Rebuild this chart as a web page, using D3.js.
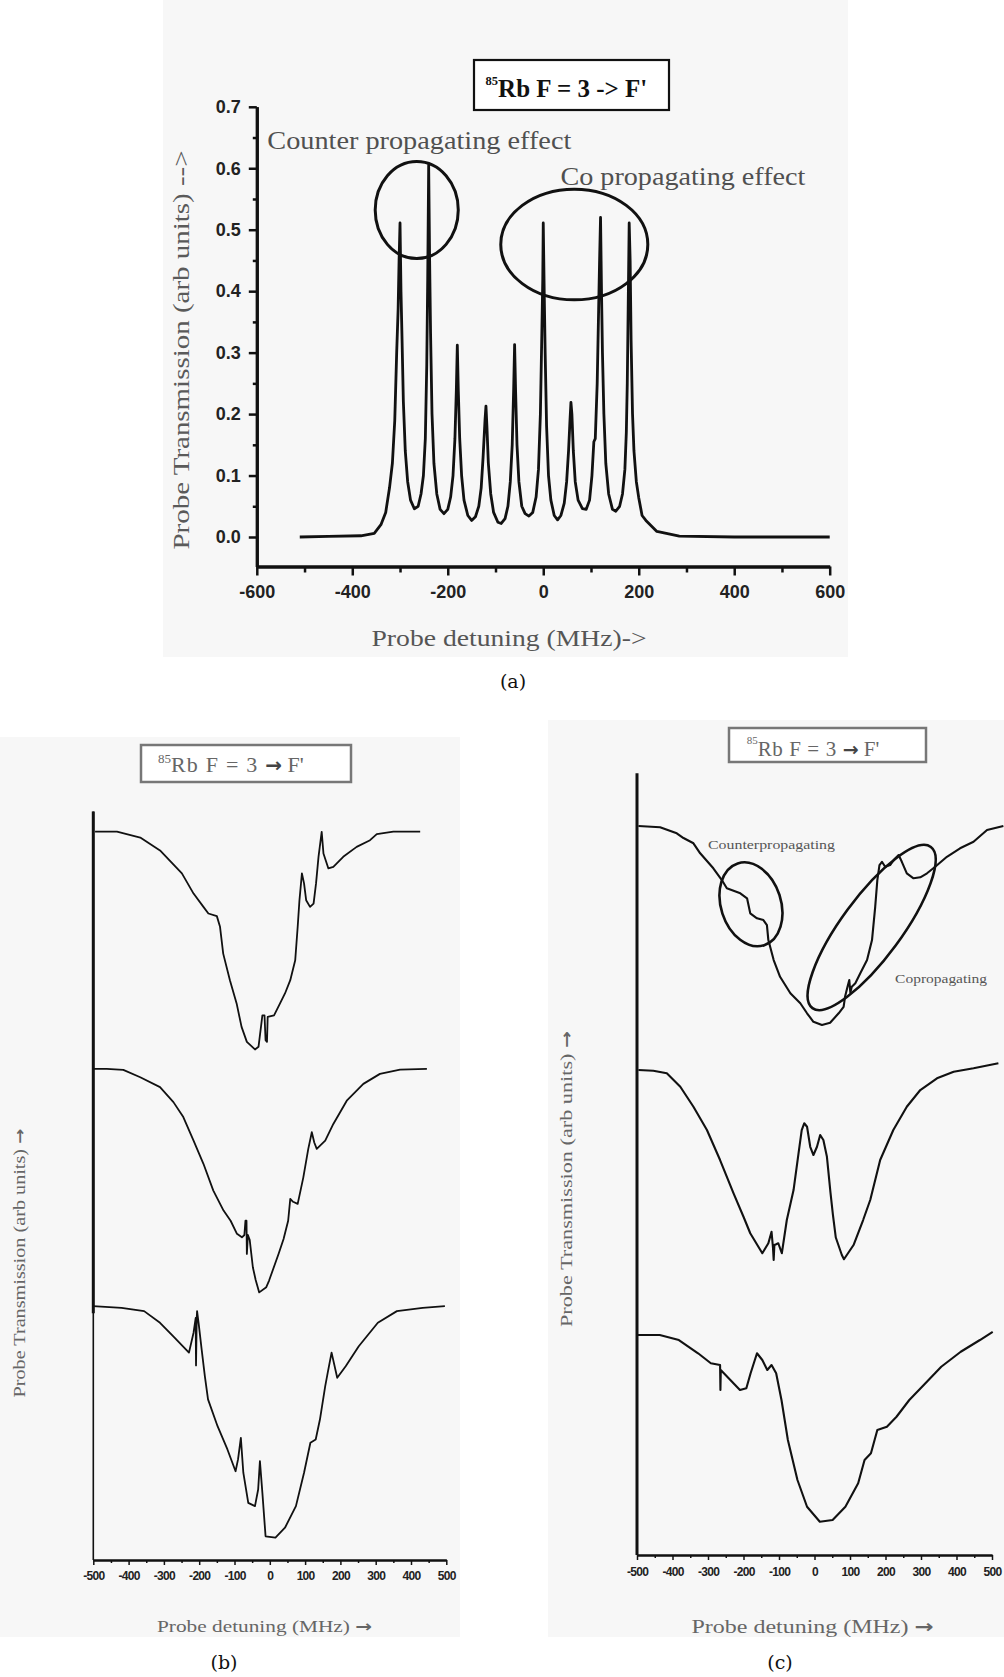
<!DOCTYPE html>
<html>
<head>
<meta charset="utf-8">
<script src="https://cdn.jsdelivr.net/npm/d3@7"></script>
<style>
  body { margin: 0; background: #fff; }
  svg { display: block; }
</style>
</head>
<body>
<svg id="fig" width="1004" height="1677"></svg>
<script>
// ---------- Panel (a): probe transmission, 85Rb F = 3 -> F' ----------
// [detuning MHz, transmission (arb units)]
const spectrumA = [
  [-510, 0], [-450, 0.001], [-382, 0.002], [-354, 0.006], [-340, 0.02], [-330, 0.04],
  [-322, 0.08], [-316, 0.12], [-311, 0.19], [-307, 0.3], [-304, 0.37], [-302, 0.45],
  [-300, 0.511], [-298, 0.40], [-296, 0.33], [-293, 0.22], [-289, 0.14], [-284, 0.09],
  [-278, 0.06], [-270, 0.046], [-262, 0.05], [-256, 0.07], [-251, 0.10], [-247, 0.16],
  [-244, 0.28], [-242, 0.42], [-240, 0.605], [-238, 0.45], [-236, 0.33], [-233, 0.2],
  [-229, 0.12], [-223, 0.07], [-216, 0.045], [-208, 0.038], [-200, 0.045], [-194, 0.065],
  [-189, 0.10], [-185, 0.16], [-182, 0.24], [-180, 0.312], [-178, 0.24], [-175, 0.16],
  [-171, 0.10], [-166, 0.06], [-158, 0.035], [-150, 0.027], [-142, 0.033], [-135, 0.05],
  [-130, 0.08], [-126, 0.13], [-122, 0.19], [-120, 0.213], [-118, 0.18], [-115, 0.12],
  [-110, 0.07], [-104, 0.04], [-95, 0.024], [-88, 0.022], [-80, 0.03], [-74, 0.05],
  [-69, 0.09], [-65, 0.15], [-62, 0.24], [-60, 0.313], [-58, 0.24], [-55, 0.15],
  [-51, 0.09], [-45, 0.05], [-38, 0.038], [-30, 0.034], [-22, 0.04], [-15, 0.065],
  [-10, 0.11], [-6, 0.2], [-3, 0.33], [-1, 0.42], [0, 0.511], [2, 0.40], [4, 0.3],
  [7, 0.18], [11, 0.1], [16, 0.06], [23, 0.035], [30, 0.028], [37, 0.035], [44, 0.055],
  [49, 0.09], [53, 0.14], [56, 0.19], [58, 0.219], [60, 0.2], [63, 0.14], [67, 0.09],
  [73, 0.06], [82, 0.046], [90, 0.045], [97, 0.06], [102, 0.1], [106, 0.155], [109, 0.16],
  [113, 0.25], [116, 0.37], [118, 0.45], [120, 0.52], [122, 0.40], [124, 0.3], [127, 0.2],
  [131, 0.12], [137, 0.07], [145, 0.045], [152, 0.042], [160, 0.05], [166, 0.07],
  [171, 0.11], [174, 0.17], [176, 0.25], [178, 0.38], [180, 0.511], [182, 0.45],
  [184, 0.32], [187, 0.2], [190, 0.14], [195, 0.09], [200, 0.064], [207, 0.035],
  [215, 0.027], [238, 0.009], [285, 0.0015], [400, 0], [600, 0]
];
const aXTicks = [-600, -400, -200, 0, 200, 400, 600];
const aXMinor = [-500, -300, -100, 100, 300, 500];
const aYTicks = [0, 0.1, 0.2, 0.3, 0.4, 0.5, 0.6, 0.7];
const aYMinor = [0.05, 0.15, 0.25, 0.35, 0.45, 0.55, 0.65];
// highlighted peak groups: centre (MHz, transmission) and half-extent in the same units
const aGroups = [
  { mhz: -265, t: 0.532, dMhz: 87, dT: 0.079 },
  { mhz: 65, t: 0.476, dMhz: 154, dT: 0.090 }
];
const aNotes = [
  { text: "Counter propagating effect", mhz: -578, t: 0.644, len: 304 },
  { text: "Co propagating effect", mhz: 36, t: 0.586, len: 245 }
];

// ---------- Panel (b): three stacked probe scans ----------
// [detuning MHz, relative transmission]; each trace stacked by its offset
const scanB1 = [
  [-495, 1.0], [-433, 1.0], [-367, 0.975], [-311, 0.921], [-249, 0.824], [-216, 0.739],
  [-188, 0.683], [-174, 0.655], [-150, 0.644], [-141, 0.599], [-132, 0.486], [-113, 0.374],
  [-94, 0.276], [-80, 0.177], [-65, 0.114], [-42, 0.082], [-32, 0.093], [-25, 0.177],
  [-21, 0.226], [-15, 0.226], [-12, 0.121], [-8, 0.114], [-6, 0.219], [12, 0.226],
  [29, 0.276], [43, 0.318], [58, 0.374], [72, 0.458], [79, 0.599], [84, 0.711], [91, 0.824],
  [97, 0.782], [103, 0.711], [114, 0.683], [124, 0.697], [131, 0.782], [138, 0.894],
  [147, 0.999], [152, 0.908], [166, 0.845], [180, 0.852], [208, 0.894], [246, 0.936],
  [284, 0.964], [303, 0.99], [350, 1.0], [426, 1.0]
];
const scanB2 = [
  [-500, 1.0], [-462, 1.0], [-415, 0.996], [-367, 0.965], [-311, 0.923], [-273, 0.86],
  [-245, 0.797], [-216, 0.698], [-188, 0.60], [-160, 0.487], [-131, 0.403], [-111, 0.36],
  [-93, 0.305], [-79, 0.29], [-72, 0.30], [-69, 0.36], [-66, 0.36], [-65, 0.22], [-62, 0.30],
  [-57, 0.28], [-48, 0.164], [-40, 0.11], [-30, 0.058], [-10, 0.08], [-2, 0.108], [25, 0.221],
  [39, 0.283], [52, 0.36], [58, 0.452], [66, 0.44], [79, 0.431], [95, 0.543], [109, 0.663],
  [119, 0.733], [126, 0.69], [133, 0.663], [157, 0.698], [180, 0.768], [218, 0.866],
  [265, 0.937], [312, 0.979], [369, 0.997], [445, 1.0]
];
const scanB3 = [
  [-501, 1.0], [-420, 0.993], [-356, 0.979], [-311, 0.93], [-274, 0.874], [-229, 0.804],
  [-216, 0.888], [-210, 0.95], [-209, 0.75], [-207, 0.95], [-206, 0.979], [-201, 0.92],
  [-193, 0.817], [-184, 0.705], [-175, 0.607], [-148, 0.494], [-120, 0.396], [-97, 0.304],
  [-90, 0.354], [-82, 0.445], [-75, 0.298], [-61, 0.171], [-42, 0.157], [-33, 0.227],
  [-28, 0.347], [-21, 0.213], [-12, 0.03], [16, 0.024], [43, 0.066], [74, 0.157], [97, 0.298],
  [115, 0.424], [130, 0.438], [142, 0.522], [157, 0.663], [164, 0.719], [175, 0.804],
  [191, 0.698], [215, 0.747], [252, 0.831], [306, 0.93], [360, 0.979], [433, 0.993], [496, 1.0]
];
const scansB = [scanB1, scanB2, scanB3];
const offsetsB = [2, 1, 0];

// ---------- Panel (c): three stacked probe scans ----------
// [detuning MHz, transmission (arb units)]
const scanC1 = [
  [-496, 2.916], [-435, 2.911], [-388, 2.887], [-369, 2.868], [-341, 2.847], [-322, 2.807],
  [-285, 2.747], [-261, 2.70], [-247, 2.667], [-209, 2.647], [-190, 2.627], [-181, 2.567],
  [-162, 2.547], [-144, 2.54], [-134, 2.52], [-130, 2.46], [-115, 2.38], [-97, 2.313],
  [-68, 2.247], [-40, 2.207], [-21, 2.167], [-3, 2.133], [21, 2.12], [44, 2.129], [68, 2.167],
  [82, 2.193], [86, 2.233], [93, 2.273], [98, 2.30], [101, 2.25], [105, 2.273], [115, 2.287],
  [129, 2.327], [148, 2.38], [162, 2.46], [171, 2.593], [177, 2.70], [183, 2.76], [190, 2.773],
  [199, 2.753], [213, 2.76], [223, 2.78], [237, 2.80], [246, 2.773], [260, 2.727], [279, 2.707],
  [298, 2.711], [317, 2.727], [340, 2.753], [373, 2.793], [410, 2.827], [448, 2.853],
  [486, 2.90], [532, 2.916]
];
const scanC2 = [
  [-496, 1.94], [-454, 1.937], [-416, 1.927], [-378, 1.873], [-341, 1.793], [-303, 1.70],
  [-266, 1.58], [-228, 1.447], [-200, 1.353], [-181, 1.287], [-147, 1.207], [-130, 1.247],
  [-121, 1.293], [-117, 1.23], [-115, 1.18], [-113, 1.24], [-108, 1.243], [-102, 1.247],
  [-92, 1.207], [-78, 1.34], [-59, 1.46], [-45, 1.607], [-36, 1.70], [-29, 1.727],
  [-21, 1.713], [-12, 1.633], [-3, 1.60], [7, 1.633], [16, 1.68], [25, 1.66], [35, 1.593],
  [45, 1.45], [52, 1.36], [60, 1.27], [77, 1.20], [83, 1.183], [110, 1.24], [137, 1.34],
  [157, 1.42], [185, 1.58], [222, 1.70], [260, 1.793], [298, 1.86], [345, 1.907],
  [392, 1.933], [448, 1.947], [518, 1.967]
];
const scanC3 = [
  [-499, 0.88], [-436, 0.88], [-382, 0.86], [-328, 0.807], [-292, 0.767], [-266, 0.76],
  [-265, 0.66], [-264, 0.74], [-237, 0.70], [-210, 0.66], [-192, 0.667], [-180, 0.727],
  [-162, 0.807], [-147, 0.78], [-133, 0.74], [-121, 0.76], [-108, 0.727], [-93, 0.62],
  [-75, 0.46], [-48, 0.30], [-21, 0.193], [15, 0.133], [51, 0.14], [87, 0.193], [123, 0.287],
  [141, 0.38], [159, 0.407], [177, 0.50], [204, 0.513], [231, 0.553], [267, 0.62],
  [303, 0.673], [357, 0.753], [412, 0.813], [466, 0.86], [502, 0.893]
];
const scansC = [scanC1, scanC2, scanC3];
// ringed regions on the top scan: centre (MHz, arb units), radii in px, tilt in degrees
const cRings = [
  { mhz: -179, v: 2.603, rx: 43, ry: 30, tilt: 72 },
  { mhz: 161, v: 2.51, rx: 100, ry: 30, tilt: -53.7 }
];
const cNotes = [
  { text: "Counterpropagating", mhz: -300, v: 2.84, len: 127 },
  { text: "Copropagating", mhz: 227, v: 2.307, len: 92 }
];
const bcXTicks = [-500, -400, -300, -200, -100, 0, 100, 200, 300, 400, 500];
const bcXMinor = [-450, -350, -250, -150, -50, 50, 150, 250, 350, 450];

// ---------- drawing ----------
const svg = d3.select("#fig");
const SERIF = "'Liberation Serif', 'Times New Roman', serif";
const SANS = "'Liberation Sans', Arial, sans-serif";
const ARROW_FONT = "'DejaVu Sans', sans-serif";

// soft grey panel grounds
[[163, 0, 685, 657], [0, 737, 460, 900], [548, 720, 456, 917]].forEach(([x, y, w, h]) =>
  svg.append("rect").attr("x", x).attr("y", y).attr("width", w).attr("height", h).attr("fill", "#f7f7f7"));

function styleAxis(g, domainW, tickW, fontSize, color, weight) {
  g.select(".domain").attr("stroke", "#111").attr("stroke-width", domainW);
  g.selectAll(".tick line").attr("stroke", "#111").attr("stroke-width", tickW);
  g.selectAll(".tick text").attr("font-family", SANS).attr("font-size", fontSize)
    .attr("font-weight", weight).attr("fill", color);
}

// text with a heavy right arrow at its end, stretched to a given length
function labelWithArrow(sel, words, arrowSize, len) {
  sel.attr("textLength", len).attr("lengthAdjust", "spacingAndGlyphs");
  sel.append("tspan").text(words + " ");
  sel.append("tspan").attr("font-family", ARROW_FONT).attr("font-weight", "bold")
    .attr("font-size", arrowSize).text("\u2192");
}

// ----- (a) -----
const xA = d3.scaleLinear().domain([-600, 600]).range([256.8, 829.7]);
const yA = d3.scaleLinear().domain([-0.048, 0.7]).range([566.5, 106.8]);
const gA = svg.append("g");

gA.append("g").attr("transform", `translate(0,${yA(-0.048)})`)
  .call(d3.axisBottom(xA).tickValues(aXMinor).tickSize(6).tickSizeOuter(0).tickFormat(""))
  .call(g => styleAxis(g, 3, 2.5, 18, "#222", "bold"));
gA.append("g").attr("transform", `translate(0,${yA(-0.048)})`)
  .call(d3.axisBottom(xA).tickValues(aXTicks).tickSize(9).tickPadding(10).tickSizeOuter(0)
    .tickFormat(d => String(d)))
  .call(g => styleAxis(g, 3, 2.5, 18, "#222", "bold"));
gA.append("g").attr("transform", `translate(${xA(-600)},0)`)
  .call(d3.axisLeft(yA).tickValues(aYMinor).tickSize(4).tickSizeOuter(0).tickFormat(""))
  .call(g => styleAxis(g, 3, 2.5, 18, "#222", "bold"));
gA.append("g").attr("transform", `translate(${xA(-600)},0)`)
  .call(d3.axisLeft(yA).tickValues(aYTicks).tickSize(8).tickPadding(8).tickSizeOuter(0)
    .tickFormat(d3.format(".1f")))
  .call(g => styleAxis(g, 3, 2.5, 18, "#222", "bold"));

gA.append("path").datum(spectrumA)
  .attr("d", d3.line().x(d => xA(d[0])).y(d => yA(d[1])))
  .attr("fill", "none").attr("stroke", "#111").attr("stroke-width", 2.8)
  .attr("stroke-linejoin", "round");

gA.selectAll("ellipse.grp").data(aGroups).join("ellipse")
  .attr("cx", d => xA(d.mhz)).attr("cy", d => yA(d.t))
  .attr("rx", d => xA(d.mhz + d.dMhz) - xA(d.mhz))
  .attr("ry", d => yA(d.t) - yA(d.t + d.dT))
  .attr("fill", "none").attr("stroke", "#111").attr("stroke-width", 3);

gA.selectAll("text.note").data(aNotes).join("text")
  .attr("x", d => xA(d.mhz)).attr("y", d => yA(d.t)).attr("dy", "0.33em")
  .attr("textLength", d => d.len).attr("lengthAdjust", "spacingAndGlyphs")
  .attr("font-family", SERIF).attr("font-size", 25).attr("fill", "#505050")
  .text(d => d.text);

// title box (a)
gA.append("rect").attr("x", 474).attr("y", 60).attr("width", 195).attr("height", 50)
  .attr("fill", "#fff").attr("stroke", "#111").attr("stroke-width", 2.2);
const tA = gA.append("text").attr("x", 485.6).attr("y", 96.5)
  .attr("font-family", SERIF).attr("font-weight", "bold").attr("fill", "#111");
tA.append("tspan").attr("font-size", 12.5).attr("dy", -12).text("85");
tA.append("tspan").attr("font-size", 25).attr("dy", 12).text("Rb F = 3 -> F'");

gA.append("text").attr("transform", "translate(181,350) rotate(-90)")
  .attr("text-anchor", "middle").attr("dy", "0.33em")
  .attr("textLength", 399).attr("lengthAdjust", "spacingAndGlyphs")
  .attr("font-family", SERIF).attr("font-size", 24).attr("fill", "#5a5a5a")
  .text("Probe Transmission (arb units) -->");
gA.append("text").attr("x", 509).attr("y", 646).attr("text-anchor", "middle")
  .attr("textLength", 275).attr("lengthAdjust", "spacingAndGlyphs")
  .attr("font-family", SERIF).attr("font-size", 24).attr("fill", "#555")
  .text("Probe detuning (MHz)->");
gA.append("text").attr("x", 513).attr("y", 688).attr("text-anchor", "middle")
  .attr("font-family", "'DejaVu Serif', serif").attr("font-size", 19).attr("fill", "#111")
  .text("(a)");

// ----- (b) -----
const xB = d3.scaleLinear().domain([-500, 500]).range([93.3, 446.3]);
const yB = d3.scaleLinear().domain([-0.07, 3.085]).range([1560, 811.5]);
const gB = svg.append("g");

gB.append("g").attr("transform", `translate(0,${yB(-0.07)})`)
  .call(d3.axisBottom(xB).tickValues(bcXMinor).tickSize(3).tickSizeOuter(0).tickFormat(""))
  .call(g => styleAxis(g, 2, 1.5, 12, "#222", "bold"));
gB.append("g").attr("transform", `translate(0,${yB(-0.07)})`)
  .call(d3.axisBottom(xB).tickValues(bcXTicks).tickSize(5).tickPadding(6).tickSizeOuter(0)
    .tickFormat(d => String(d)))
  .call(g => styleAxis(g, 2, 1.5, 12, "#222", "bold"))
  .call(g => g.selectAll(".tick text").attr("letter-spacing", -0.7));
// vertical axis: heavier along the upper stack
gB.append("line").attr("x1", xB(-500)).attr("x2", xB(-500))
  .attr("y1", yB(3.085)).attr("y2", yB(-0.07)).attr("stroke", "#111").attr("stroke-width", 1.6);
gB.append("line").attr("x1", xB(-500)).attr("x2", xB(-500))
  .attr("y1", yB(3.085)).attr("y2", yB(0.97)).attr("stroke", "#111").attr("stroke-width", 3);

const lineB = off => d3.line().x(d => xB(d[0])).y(d => yB(d[1] + off));
scansB.forEach((s, i) => {
  gB.append("path").datum(s).attr("d", lineB(offsetsB[i]))
    .attr("fill", "none").attr("stroke", "#111").attr("stroke-width", 1.8)
    .attr("stroke-linejoin", "round");
});

gB.append("rect").attr("x", 141).attr("y", 745).attr("width", 210).attr("height", 37)
  .attr("fill", "#fff").attr("stroke", "#777").attr("stroke-width", 2.5);
const tB = gB.append("text").attr("x", 158).attr("y", 771.5)
  .attr("font-family", SERIF).attr("fill", "#666");
tB.append("tspan").attr("font-size", 13).attr("dy", -8.5).text("85");
tB.append("tspan").attr("font-size", 22).attr("dy", 8.5).attr("letter-spacing", 1.2).text("Rb F = 3 ");
tB.append("tspan").attr("font-family", ARROW_FONT).attr("font-weight", "bold").attr("font-size", 20)
  .attr("fill", "#444").text("\u2192");
tB.append("tspan").attr("font-size", 22).text(" F'");

gB.append("text").attr("transform", "translate(20,1263) rotate(-90)")
  .attr("text-anchor", "middle").attr("dy", "0.33em")
  .attr("font-family", SERIF).attr("font-size", 16.5).attr("fill", "#666")
  .call(t => labelWithArrow(t, "Probe Transmission (arb units)", 15, 269));
gB.append("text").attr("x", 264.5).attr("y", 1632).attr("text-anchor", "middle")
  .attr("font-family", SERIF).attr("font-size", 17).attr("fill", "#666")
  .call(t => labelWithArrow(t, "Probe detuning (MHz)", 16, 215));
gB.append("text").attr("x", 224).attr("y", 1669).attr("text-anchor", "middle")
  .attr("font-family", "'DejaVu Serif', serif").attr("font-size", 19).attr("fill", "#111")
  .text("(b)");

// ----- (c) -----
const xC = d3.scaleLinear().domain([-500, 500]).range([637, 992]);
const yC = d3.scaleLinear().domain([0, 3.127]).range([1555, 773.3]);
const gC = svg.append("g");

gC.append("g").attr("transform", `translate(0,${yC(0)})`)
  .call(d3.axisBottom(xC).tickValues(bcXMinor).tickSize(3).tickSizeOuter(0).tickFormat(""))
  .call(g => styleAxis(g, 2.2, 1.5, 12, "#222", "bold"));
gC.append("g").attr("transform", `translate(0,${yC(0)})`)
  .call(d3.axisBottom(xC).tickValues(bcXTicks).tickSize(5).tickPadding(7.5).tickSizeOuter(0)
    .tickFormat(d => String(d)))
  .call(g => styleAxis(g, 2.2, 1.5, 12, "#222", "bold"))
  .call(g => g.selectAll(".tick text").attr("letter-spacing", -0.7));
gC.append("line").attr("x1", xC(-500)).attr("x2", xC(-500))
  .attr("y1", yC(3.127)).attr("y2", yC(0)).attr("stroke", "#111").attr("stroke-width", 3);

const lineC = d3.line().x(d => xC(d[0])).y(d => yC(d[1]));
scansC.forEach(s => {
  gC.append("path").datum(s).attr("d", lineC)
    .attr("fill", "none").attr("stroke", "#111").attr("stroke-width", 2.1)
    .attr("stroke-linejoin", "round");
});

gC.selectAll("ellipse.ring").data(cRings).join("ellipse")
  .attr("transform", d => `translate(${xC(d.mhz)},${yC(d.v)}) rotate(${d.tilt})`)
  .attr("rx", d => d.rx).attr("ry", d => d.ry)
  .attr("fill", "none").attr("stroke", "#111").attr("stroke-width", 2.6);

gC.selectAll("text.note").data(cNotes).join("text")
  .attr("x", d => xC(d.mhz)).attr("y", d => yC(d.v)).attr("dy", "0.33em")
  .attr("textLength", d => d.len).attr("lengthAdjust", "spacingAndGlyphs")
  .attr("font-family", SERIF).attr("font-size", 13).attr("fill", "#555")
  .text(d => d.text);

gC.append("rect").attr("x", 729).attr("y", 728).attr("width", 197).attr("height", 34)
  .attr("fill", "#fff").attr("stroke", "#777").attr("stroke-width", 2.5);
const tC = gC.append("text").attr("x", 746.7).attr("y", 756)
  .attr("font-family", SERIF).attr("fill", "#666");
tC.append("tspan").attr("font-size", 11).attr("dy", -12).text("85");
tC.append("tspan").attr("font-size", 21).attr("dy", 12).attr("letter-spacing", 0.6).text("Rb F = 3 ");
tC.append("tspan").attr("font-family", ARROW_FONT).attr("font-weight", "bold").attr("font-size", 19)
  .attr("fill", "#444").text("\u2192");
tC.append("tspan").attr("font-size", 21).text(" F'");

gC.append("text").attr("transform", "translate(566,1179) rotate(-90)")
  .attr("text-anchor", "middle").attr("dy", "0.33em")
  .attr("font-family", SERIF).attr("font-size", 17.5).attr("fill", "#666")
  .call(t => labelWithArrow(t, "Probe Transmission (arb units)", 16, 296));
gC.append("text").attr("x", 812.5).attr("y", 1633).attr("text-anchor", "middle")
  .attr("font-family", SERIF).attr("font-size", 19).attr("fill", "#666")
  .call(t => labelWithArrow(t, "Probe detuning (MHz)", 18, 242));
gC.append("text").attr("x", 780).attr("y", 1669).attr("text-anchor", "middle")
  .attr("font-family", "'DejaVu Serif', serif").attr("font-size", 19).attr("fill", "#111")
  .text("(c)");
</script>
</body>
</html>
